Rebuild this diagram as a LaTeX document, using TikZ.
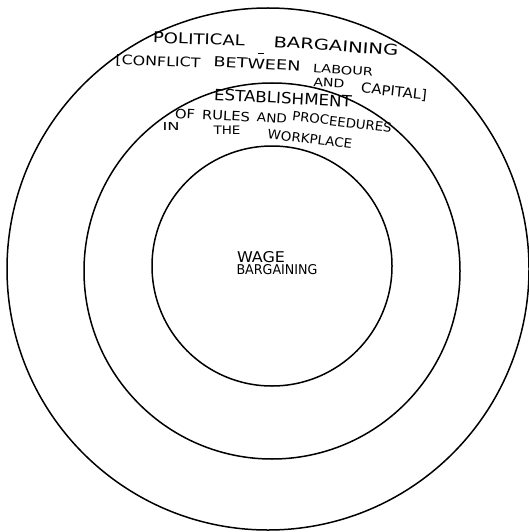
\documentclass[tikz,border=0pt]{standalone}
\usepackage{fontspec}
\setmainfont{DejaVu Sans}
\usepackage{graphicx}
\newcommand{\hwtxt}[3]{\resizebox{#1pt}{#2pt}{#3}}
\begin{document}
\begin{tikzpicture}[x=1pt,y=-1pt,
  ring/.style={draw=black, line width=1.5pt},
  word/.style={inner sep=0pt, anchor=center}]
\useasboundingbox (0,0) rectangle (529,532);
\fill[white] (0,0) rectangle (529,532);
% circles
\draw[ring] (268,269) circle[radius=261];
\draw[ring] (272,271) circle[radius=188];
\draw[ring] (272,266) circle[radius=120];
% outer ring text
\node[word, rotate=-2] (pol) at (199,39) {\hwtxt{92}{11}{POLITICAL}};
\node[word, rotate=-4] (barg) at (336,46) {\hwtxt{125}{11}{BARGAINING}};
\coordinate (dashA) at (258,53);
\coordinate (dashB) at (264,53);
\draw[line width=0.9pt] (dashA) -- (dashB);
\node[word, rotate=-2] (confl) at (158,62) {\hwtxt{85}{10}{[CONFLICT}};
\node[word, rotate=-3] (betw) at (257,64) {\hwtxt{87}{10}{BETWEEN}};
\node[word, rotate=-4] (lab) at (343,70) {\hwtxt{60}{8.5}{LABOUR}};
\node[word, rotate=-3] (and1) at (329,83) {\hwtxt{31}{8.5}{AND}};
\node[word, rotate=-6] (cap) at (394,92) {\hwtxt{66}{10.5}{CAPITAL]}};
% middle ring text
\node[word, rotate=-3] (estab) at (283,98) {\hwtxt{138}{11.5}{ESTABLISHMENT}};
\node[word, rotate=-3] (of) at (185,114) {\hwtxt{20}{9.5}{OF}};
\node[word, rotate=-3] (rules) at (226,116) {\hwtxt{48}{9.5}{RULES}};
\node[word, rotate=-4] (and2) at (272,118) {\hwtxt{30}{9}{AND}};
\node[word, rotate=-7] (proc) at (342,122) {\hwtxt{100}{9.5}{PROCEEDURES}};
\node[word] (in) at (171,127) {\hwtxt{17}{8}{IN}};
\node[word] (the) at (227,130) {\hwtxt{27}{8.5}{THE}};
\node[word, rotate=-7] (work) at (310,139) {\hwtxt{85}{9.5}{WORKPLACE}};
% inner text
\node[word] (wage) at (261,257) {\hwtxt{48}{11}{WAGE}};
\node[word] (wbarg) at (277,270) {\hwtxt{81}{10}{BARGAINING}};
\end{tikzpicture}
\end{document}
